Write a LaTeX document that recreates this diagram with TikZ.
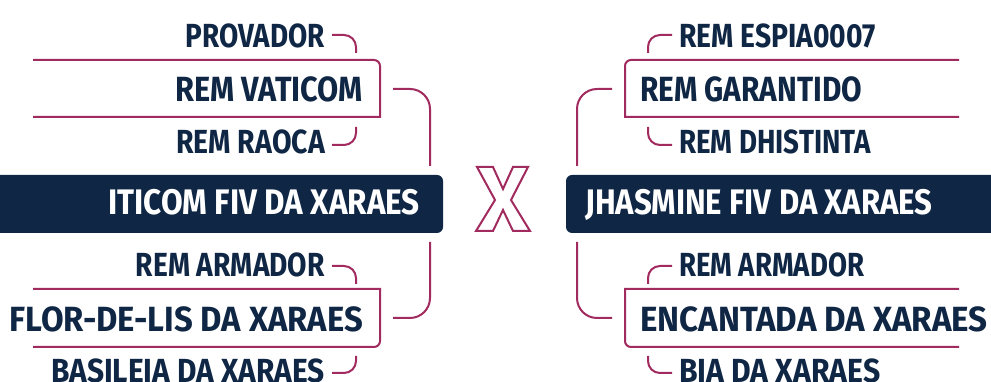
\documentclass[tikz,border=0pt]{standalone}
\usepackage{fontspec}
\newfontfamily\labfont{Fira Sans}[FakeStretch=0.86]
\definecolor{navy}{HTML}{0F2745}
\definecolor{rose}{HTML}{A12A5E}
\newcommand{\sx}[2]{\scalebox{#1}[1]{#2}}
\begin{document}
\begin{tikzpicture}[x=1pt,y=1pt,
  small/.style={inner sep=0pt, text=navy, font=\labfont\bfseries\fontsize{33.4}{36}\selectfont},
  big/.style={inner sep=0pt, text=navy, font=\labfont\bfseries\fontsize{35}{38}\selectfont},
  main/.style={inner sep=0pt, text=white, font=\labfont\bfseries\fontsize{35.5}{38}\selectfont},
  wire/.style={draw=rose, line width=2pt},
  mainbox/.style={fill=navy, rounded corners=6pt}]
\useasboundingbox (0,0) rectangle (991,382);
% main boxes
\fill[mainbox] (-10,149) rectangle (443,207);
\fill[mainbox] (566,149) rectangle (1001,207);
% left labels
\node[small, anchor=base east] (prov) at (325,334) {\sx{0.97}{PROVADOR}};
\node[big,   anchor=base east] (vati) at (363,280) {\sx{1.02}{REM VATICOM}};
\node[small, anchor=base east] (raoca) at (325,228) {\sx{0.99}{REM RAOCA}};
\node[main,  anchor=base east] (iti) at (420,167) {\sx{1.03}{ITICOM FIV DA XARAES}};
\node[small, anchor=base east] (armL) at (325,105) {\sx{0.98}{REM ARMADOR}};
\node[big,   anchor=base east] (flor) at (363,50) {\sx{1.09}{FLOR-DE-LIS DA XARAES}};
\node[small, anchor=base east] (basi) at (325,-1) {\sx{1.04}{BASILEIA DA XARAES}};
% right labels
\node[small, anchor=base west] (espia) at (679,334) {\sx{0.985}{REM ESPIA0007}};
\node[big,   anchor=base west] (gara) at (640,280) {\sx{0.99}{REM GARANTIDO}};
\node[small, anchor=base west] (dhis) at (679,228) {\sx{0.965}{REM DHISTINTA}};
\node[main,  anchor=base west] (jhas) at (585,167) {\sx{1.02}{JHASMINE FIV DA XARAES}};
\node[small, anchor=base west] (armR) at (679,105) {\sx{0.96}{REM ARMADOR}};
\node[big,   anchor=base west] (enca) at (640,50) {\sx{1.1}{ENCANTADA DA XARAES}};
\node[small, anchor=base west] (bia) at (679,-1) {\sx{1.05}{BIA DA XARAES}};
% left connector coordinates
\coordinate (provS) at (332,347); \coordinate (provE) at (356,329);
\coordinate (raocaS) at (356,255); \coordinate (raocaE) at (332,237);
\coordinate (armLS) at (332,116); \coordinate (armLE) at (356,98);
\coordinate (basiS) at (356,26); \coordinate (basiE) at (332,9);
\coordinate (vatiS) at (393,293); \coordinate (itiT) at (430,216);
\coordinate (itiB) at (430,140); \coordinate (florS) at (393,64);
% right connector coordinates
\coordinate (espiaS) at (672,347); \coordinate (espiaE) at (648,329);
\coordinate (dhisS) at (648,255); \coordinate (dhisE) at (672,237);
\coordinate (armRS) at (672,116); \coordinate (armRE) at (648,98);
\coordinate (biaS) at (648,26); \coordinate (biaE) at (672,9);
\coordinate (garaS) at (612,293); \coordinate (jhasT) at (577,216);
\coordinate (jhasB) at (577,140); \coordinate (encaS) at (612,64);
% small connectors
\draw[wire, rounded corners=12pt] (provS) -| (provE);
\draw[wire, rounded corners=12pt] (raocaS) |- (raocaE);
\draw[wire, rounded corners=12pt] (armLS) -| (armLE);
\draw[wire, rounded corners=12pt] (basiS) |- (basiE);
\draw[wire, rounded corners=12pt] (espiaS) -| (espiaE);
\draw[wire, rounded corners=12pt] (dhisS) |- (dhisE);
\draw[wire, rounded corners=12pt] (armRS) -| (armRE);
\draw[wire, rounded corners=12pt] (biaS) |- (biaE);
% big connectors
\draw[wire, rounded corners=20pt] (vatiS) -| (itiT);
\draw[wire, rounded corners=20pt] (itiB) |- (florS);
\draw[wire, rounded corners=20pt] (garaS) -| (jhasT);
\draw[wire, rounded corners=20pt] (jhasB) |- (encaS);
% brackets round the big labels
\draw[wire] (33,322) -- (374,322) arc[start angle=90, end angle=0, radius=6pt] -- (380,265) -- (33,265);
\draw[wire] (33,93) -- (380,93) -- (380,41) arc[start angle=0, end angle=-90, radius=6pt] -- (33,35);
\draw[wire] (959,322) -- (631,322) arc[start angle=90, end angle=180, radius=6pt] -- (625,265) -- (959,265);
\draw[wire] (959,93) -- (625,93) -- (625,41) arc[start angle=180, end angle=270, radius=6pt] -- (959,35);
% the X
\draw[wire, line join=miter] (477,215) -- (493,215) -- (503,193) -- (513,215) -- (528,215) -- (511,182) -- (530,151) -- (513,151) -- (503,172) -- (493,151) -- (476,151) -- (495,182) -- cycle;
\end{tikzpicture}
\end{document}
